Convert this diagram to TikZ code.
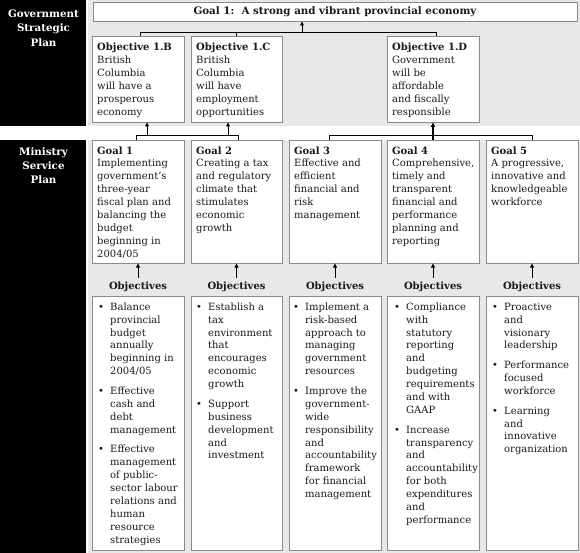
\documentclass[tikz,border=0pt]{standalone}
\usepackage{fontspec}
\setmainfont{DejaVu Serif}
\usetikzlibrary{arrows.meta}
\definecolor{bg}{HTML}{E8E8E8}
\definecolor{bd}{HTML}{8A8A8A}
\definecolor{tx}{HTML}{1A1A1A}
\newcommand\bul{\makebox[12pt][l]{\textbullet}}
\newcommand\ind{\hspace*{12pt}}
\begin{document}
\begin{tikzpicture}[x=1pt,y=-1pt,
  box/.style={draw=bd, line width=0.9pt, fill=white, anchor=north west, inner sep=0, outer sep=0},
  txt/.style={anchor=north west, inner sep=0, align=left, font=\fontsize{10}{12.9}\selectfont, text=tx},
  lbl/.style={anchor=north, inner sep=0, align=center, font=\fontsize{10.3}{14.4}\selectfont\bfseries, text=white},
  olbl/.style={anchor=base, inner sep=0, font=\fontsize{10}{12.9}\selectfont\bfseries, text=tx},
  conn/.style={line width=0.9pt},
  arr/.style={line width=0.9pt, -{Latex[length=4.5pt,width=4.5pt]}},
]
\useasboundingbox (0,0) rectangle (580,553);
\fill[white] (0,0) rectangle (580,553);
\fill[black] (0,0) rectangle (86,126);
\fill[black] (0,140) rectangle (86,553);
\fill[bg] (88,0) rectangle (580,126);
\fill[bg] (88,140) rectangle (580,553);

% left labels
\node[lbl] (gsp) at (43.5,7.2) {\strut Government\\Strategic\\Plan};
\node[lbl] (msp) at (43.5,144.9) {\strut Ministry\\Service\\Plan};

% top goal
\node[box, minimum width=484, minimum height=19] (gtop) at (93,2) {};
\node[anchor=base, inner sep=0, font=\fontsize{10.3}{12.9}\selectfont\bfseries, text=tx] (gtopt) at (335,15) {Goal 1:\ \ A strong and vibrant provincial economy};

% government objectives
\node[box, minimum width=92, minimum height=86] (o1b) at (92,36) {};
\node[box, minimum width=91, minimum height=86] (o1c) at (191,36) {};
\node[box, minimum width=92, minimum height=86] (o1d) at (387,36) {};
\node[txt] (o1bt) at (97,41.5) {\strut\textbf{Objective 1.B}\\British\\Columbia\\will have a\\prosperous\\economy};
\node[txt] (o1ct) at (196,41.5) {\strut\textbf{Objective 1.C}\\British\\Columbia\\will have\\employment\\opportunities};
\node[txt] (o1dt) at (392,41.5) {\strut\textbf{Objective 1.D}\\Government\\will be\\affordable\\and fiscally\\responsible};

% ministry goals
\node[box, minimum width=92, minimum height=123] (g1) at (92,140) {};
\node[box, minimum width=91, minimum height=123] (g2) at (191,140) {};
\node[box, minimum width=92, minimum height=123] (g3) at (289,140) {};
\node[box, minimum width=92, minimum height=123] (g4) at (387,140) {};
\node[box, minimum width=92, minimum height=123] (g5) at (486,140) {};
\node[txt] (g1t) at (97,144.8) {\strut\textbf{Goal 1}\\Implementing\\government's\\three-year\\fiscal plan and\\balancing the\\budget\\beginning in\\2004/05};
\node[txt] (g2t) at (196,144.8) {\strut\textbf{Goal 2}\\Creating a tax\\and regulatory\\climate that\\stimulates\\economic\\growth};
\node[txt] (g3t) at (294,144.8) {\strut\textbf{Goal 3}\\Effective and\\efficient\\financial and\\risk\\management};
\node[txt] (g4t) at (392,144.8) {\strut\textbf{Goal 4}\\Comprehensive,\\timely and\\transparent\\financial and\\performance\\planning and\\reporting};
\node[txt] (g5t) at (491,144.8) {\strut\textbf{Goal 5}\\A progressive,\\innovative and\\knowledgeable\\workforce};

% objectives labels
\node[olbl] (ol1) at (138,289) {Objectives};
\node[olbl] (ol2) at (236.5,289) {Objectives};
\node[olbl] (ol3) at (335,289) {Objectives};
\node[olbl] (ol4) at (433,289) {Objectives};
\node[olbl] (ol5) at (532,289) {Objectives};

% objective boxes
\node[box, minimum width=92, minimum height=254] (b1) at (92,296) {};
\node[box, minimum width=91, minimum height=254] (b2) at (191,296) {};
\node[box, minimum width=92, minimum height=254] (b3) at (289,296) {};
\node[box, minimum width=92, minimum height=254] (b4) at (387,296) {};
\node[box, minimum width=92, minimum height=254] (b5) at (486,296) {};
\node[txt] (b1t) at (98,301) {\strut\bul Balance\\\ind provincial\\\ind budget\\\ind annually\\\ind beginning in\\\ind 2004/05\\[6.8pt]
\bul Effective\\\ind cash and\\\ind debt\\\ind management\\[6.8pt]
\bul Effective\\\ind management\\\ind of public-\\\ind sector labour\\\ind relations and\\\ind human\\\ind resource\\\ind strategies};
\node[txt] (b2t) at (196,301) {\strut\bul Establish a\\\ind tax\\\ind environment\\\ind that\\\ind encourages\\\ind economic\\\ind growth\\[6.8pt]
\bul Support\\\ind business\\\ind development\\\ind and\\\ind investment};
\node[txt] (b3t) at (293,301) {\strut\bul Implement a\\\ind risk-based\\\ind approach to\\\ind managing\\\ind government\\\ind resources\\[6.8pt]
\bul Improve the\\\ind government-\\\ind wide\\\ind responsibility\\\ind and\\\ind accountability\\\ind framework\\\ind for financial\\\ind management};
\node[txt] (b4t) at (394,301) {\strut\bul Compliance\\\ind with\\\ind statutory\\\ind reporting\\\ind and\\\ind budgeting\\\ind requirements\\\ind and with\\\ind GAAP\\[6.8pt]
\bul Increase\\\ind transparency\\\ind and\\\ind accountability\\\ind for both\\\ind expenditures\\\ind and\\\ind performance};
\node[txt] (b5t) at (492,301) {\strut\bul Proactive\\\ind and\\\ind visionary\\\ind leadership\\[6.8pt]
\bul Performance\\\ind focused\\\ind workforce\\[6.8pt]
\bul Learning\\\ind and\\\ind innovative\\\ind organization};

% connectors: top bracket
\coordinate (t1) at (140,32.5);
\coordinate (t2) at (236,32.5);
\coordinate (t3) at (436,32.5);
\coordinate (ta) at (302,32.5);
\draw[conn] (o1b.north -| t1) -- (t1) -- (t3) -- (o1d.north -| t3);
\draw[conn] (t2) -- (o1c.north -| t2);
\draw[arr] (ta) -- (gtop.south -| ta);

% middle brackets
\coordinate (m1) at (136,135);
\coordinate (m2) at (238,135);
\coordinate (a1) at (147,135);
\coordinate (a2) at (228,135);
\draw[conn] (g1.north -| m1) -- (m1) -- (m2) -- (g2.north -| m2);
\draw[arr] (a1) -- (o1b.south -| a1);
\draw[arr] (a2) -- (o1c.south -| a2);
\coordinate (m3) at (329,135);
\coordinate (m4) at (532,135);
\draw[conn] (g3.north -| m3) -- (m3) -- (m4) -- (g5.north -| m4);
\draw[line width=1.8pt, -{Latex[length=5pt,width=5pt]}] (g4.north) -- (o1d.south);

% objectives arrows
\draw[arr] ([yshift=3pt]ol1.north) -- (g1.south);
\draw[arr] ([yshift=3pt]ol2.north) -- (g2.south);
\draw[arr] ([yshift=3pt]ol3.north) -- (g3.south);
\draw[arr] ([yshift=3pt]ol4.north) -- (g4.south);
\draw[arr] ([yshift=3pt]ol5.north) -- (g5.south);
\end{tikzpicture}
\end{document}
